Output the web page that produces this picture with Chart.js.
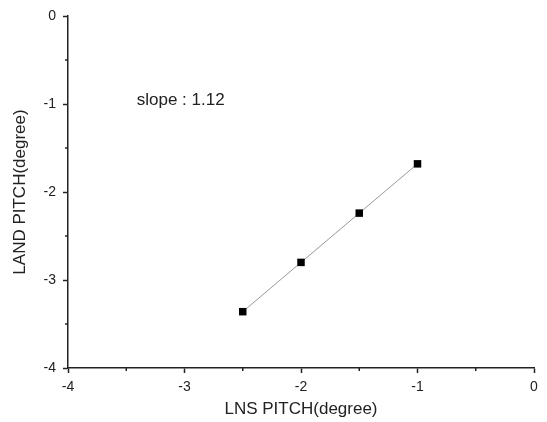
<!DOCTYPE html>
<html>
<head>
<meta charset="utf-8">
<script src="https://cdn.jsdelivr.net/npm/chart.js@4"></script>
<style>
  html, body { margin: 0; padding: 0; background: #fff; }
  #wrap { width: 547px; height: 422px; }
</style>
</head>
<body>
<div id="wrap"><canvas id="chart" width="547" height="422"></canvas></div>
<script>
// values
const lnsPitch = [-2.5, -2.0, -1.5, -1.0];
const landPitch = [-3.36, -2.8, -2.24, -1.68];
const slopeText = 'slope : 1.12';
const slopeAt = { x: -3.41, y: -0.96 };
const minorTicks = [-3.5, -2.5, -1.5, -0.5];

const font = '"Liberation Sans", Arial, sans-serif';
const ink = '#222';

// minor ticks + slope note, placed through the scales
const extras = {
  id: 'extras',
  afterDraw(chart) {
    const ctx = chart.ctx;
    const xs = chart.scales.x, ys = chart.scales.y;
    ctx.save();
    ctx.strokeStyle = ink;
    ctx.lineWidth = 1.5;
    minorTicks.forEach(v => {
      const px = xs.getPixelForValue(v);
      ctx.beginPath();
      ctx.moveTo(px, ys.bottom);
      ctx.lineTo(px, ys.bottom + 3);
      ctx.stroke();
      const py = ys.getPixelForValue(v);
      ctx.beginPath();
      ctx.moveTo(xs.left, py);
      ctx.lineTo(xs.left - 3, py);
      ctx.stroke();
    });
    ctx.fillStyle = ink;
    ctx.font = '17px ' + font;
    ctx.textBaseline = 'middle';
    ctx.fillText(slopeText, xs.getPixelForValue(slopeAt.x), ys.getPixelForValue(slopeAt.y));
    ctx.restore();
  }
};

new Chart(document.getElementById('chart'), {
  type: 'scatter',
  data: {
    datasets: [{
      data: lnsPitch.map((x, i) => ({ x: x, y: landPitch[i] })),
      showLine: true,
      borderColor: '#999',
      borderWidth: 1,
      pointStyle: 'rect',
      pointRadius: 5.3,
      pointHoverRadius: 5.3,
      pointBackgroundColor: '#000',
      pointBorderColor: '#000',
      pointBorderWidth: 0
    }]
  },
  options: {
    responsive: false,
    animation: false,
    layout: { padding: { left: 0, right: 13, top: 16, bottom: 0 } },
    plugins: { legend: { display: false }, tooltip: { enabled: false } },
    scales: {
      x: {
        type: 'linear',
        min: -4, max: 0,
        afterFit(s) { s.height = 54; },
        border: { color: ink, width: 1.5 },
        grid: { drawOnChartArea: false, drawTicks: true, tickLength: 5, tickColor: ink, tickWidth: 1.5 },
        ticks: { stepSize: 1, padding: 6, color: ink, font: { family: font, size: 14 } },
        title: { display: true, text: 'LNS PITCH(degree)', color: ink, font: { family: font, size: 17 }, padding: { top: 0, bottom: 2 } }
      },
      y: {
        type: 'linear',
        min: -4, max: 0,
        afterFit(s) { s.width = 68; },
        border: { color: ink, width: 1.5 },
        grid: { drawOnChartArea: false, drawTicks: true, tickLength: 5, tickColor: ink, tickWidth: 1.5 },
        ticks: { stepSize: 1, padding: 7, color: ink, font: { family: font, size: 14 } },
        title: { display: true, text: 'LAND PITCH(degree)', color: ink, font: { family: font, size: 17 }, padding: { top: 10, bottom: 0 } }
      }
    }
  },
  plugins: [extras]
});
</script>
</body>
</html>
